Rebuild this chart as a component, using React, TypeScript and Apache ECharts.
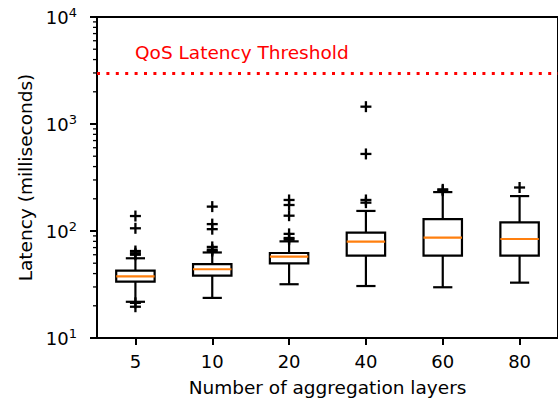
import React, { useEffect, useRef } from "react";
import * as echarts from "echarts";

const CATEGORIES = ["5", "10", "20", "40", "60", "80"];
const WHISKER_LOW = [21.8, 23.7, 31.8, 30.6, 29.8, 32.9];
const Q1 = [33.6, 38.2, 49.9, 58.8, 58.8, 58.8];
const MEDIAN = [37.7, 43.9, 57.5, 79.4, 86.6, 84.2];
const Q3 = [42.6, 49.0, 62.3, 96.4, 129, 120.6];
const WHISKER_HIGH = [55.6, 63, 80, 154, 231, 212];
const OUTLIERS: number[][] = [
  [138, 106, 65, 62, 60, 21.3, 19.6],
  [169, 116, 104, 71, 67, 65],
  [195, 175, 139, 94, 86, 83],
  [1452, 525, 195, 184],
  [245, 238],
  [255],
];
const THRESHOLD = 3000;
const THRESHOLD_LABEL = "QoS Latency Threshold";
const Y_MIN = 10;
const Y_MAX = 10000;
const MINOR_TICKS = [
  20, 30, 40, 50, 60, 70, 80, 90,
  200, 300, 400, 500, 600, 700, 800, 900,
  2000, 3000, 4000, 5000, 6000, 7000, 8000, 9000,
];
const X_NAME = "Number of aggregation layers";
const Y_NAME = "Latency (milliseconds)";

const FONT = "DejaVu Sans";

export default function App() {
  const ref = useRef<HTMLDivElement>(null);
  useEffect(() => {
    document.body.style.margin = "0";
    const chart = echarts.init(ref.current!, null, { renderer: "svg" });
    const boxData = CATEGORIES.map((_, i) => [i, WHISKER_LOW[i], Q1[i], MEDIAN[i], Q3[i], WHISKER_HIGH[i]]);
    const outlierData: number[][] = [];
    OUTLIERS.forEach((arr, i) => arr.forEach((v) => outlierData.push([i, v])));
    const minorData = MINOR_TICKS.map((v) => [0, v]);

    chart.setOption({
      animation: false,
      grid: { left: 97, top: 17, width: 462, height: 321, show: true, borderColor: "#000", borderWidth: 2, backgroundColor: "transparent" },
      xAxis: {
        type: "category",
        data: CATEGORIES,
        boundaryGap: true,
        name: X_NAME,
        nameLocation: "middle",
        nameGap: 40,
        nameTextStyle: { fontFamily: FONT, fontSize: 18.5, color: "#000" },
        axisLine: { show: true, lineStyle: { color: "#000", width: 2 } },
        axisTick: { show: true, alignWithLabel: true, length: 7, lineStyle: { color: "#000", width: 2 } },
        axisLabel: { fontFamily: FONT, fontSize: 18, color: "#000", margin: 14, interval: 0 },
        splitLine: { show: false },
      },
      yAxis: {
        type: "log",
        logBase: 10,
        min: Y_MIN,
        max: Y_MAX,
        name: Y_NAME,
        nameLocation: "middle",
        nameGap: 48,
        nameTextStyle: { fontFamily: FONT, fontSize: 18.5, color: "#000" },
        axisLine: { show: true, lineStyle: { color: "#000", width: 2 } },
        axisTick: { show: true, length: 7, lineStyle: { color: "#000", width: 2 } },
        axisLabel: {
          margin: 20,
          formatter: (v: number) => `{b|10}{s|${Math.round(Math.log10(v))}}`,
          rich: {
            b: { fontFamily: FONT, fontSize: 18, color: "#000" },
            s: { fontFamily: FONT, fontSize: 13, color: "#000", padding: [0, 0, 10, 0] },
          },
        },
        splitLine: { show: false },
      },
      graphic: [
        {
          type: "text",
          left: 135,
          top: 43,
          style: { text: THRESHOLD_LABEL, fill: "#ff0000", font: `18.5px "${FONT}"` },
        },
      ],
      series: [
        {
          type: "custom",
          name: "minor",
          data: minorData,
          encode: { x: 0, y: 1 },
          silent: true,
          clip: false,
          renderItem: (params: any, api: any) => {
            const p = api.coord([0, api.value(1)]);
            const x0 = params.coordSys.x;
            return {
              type: "line",
              shape: { x1: x0 - 4, y1: p[1], x2: x0, y2: p[1] },
              style: { stroke: "#000", lineWidth: 1.3 },
            };
          },
        },
        {
          type: "custom",
          name: "boxes",
          data: boxData,
          encode: { x: 0, y: [1, 2, 3, 4, 5] },
          renderItem: (params: any, api: any) => {
            const i = api.value(0);
            const band = params.coordSys.width / CATEGORIES.length;
            const hw = band * 0.25;
            const cap = band * 0.125;
            const cx = api.coord([i, api.value(3)])[0];
            const yl = api.coord([i, api.value(1)])[1];
            const y1 = api.coord([i, api.value(2)])[1];
            const ym = api.coord([i, api.value(3)])[1];
            const y3 = api.coord([i, api.value(4)])[1];
            const yh = api.coord([i, api.value(5)])[1];
            const s = { stroke: "#000", lineWidth: 2.2, fill: null };
            return {
              type: "group",
              children: [
                { type: "line", shape: { x1: cx, y1: y3, x2: cx, y2: yh }, style: s },
                { type: "line", shape: { x1: cx, y1: y1, x2: cx, y2: yl }, style: s },
                { type: "line", shape: { x1: cx - cap, y1: yh, x2: cx + cap, y2: yh }, style: s },
                { type: "line", shape: { x1: cx - cap, y1: yl, x2: cx + cap, y2: yl }, style: s },
                { type: "rect", shape: { x: cx - hw, y: y3, width: 2 * hw, height: y1 - y3 }, style: { stroke: "#000", lineWidth: 2.2, fill: "none" } },
                { type: "line", shape: { x1: cx - hw, y1: ym, x2: cx + hw, y2: ym }, style: { stroke: "#ff7f0e", lineWidth: 2.2 } },
              ],
            };
          },
          markLine: {
            silent: true,
            symbol: ["none", "none"],
            label: { show: false },
            lineStyle: { color: "#ff0000", width: 3, type: [3, 6.4], cap: "butt" },
            data: [{ yAxis: THRESHOLD }],
          },
        },
        {
          type: "custom",
          name: "outliers",
          data: outlierData,
          encode: { x: 0, y: 1 },
          renderItem: (params: any, api: any) => {
            const p = api.coord([api.value(0), api.value(1)]);
            const r = 5.5;
            const st = { stroke: "#000", lineWidth: 2.3 };
            return {
              type: "group",
              children: [
                { type: "line", shape: { x1: p[0] - r, y1: p[1], x2: p[0] + r, y2: p[1] }, style: st },
                { type: "line", shape: { x1: p[0], y1: p[1] - r, x2: p[0], y2: p[1] + r }, style: st },
              ],
            };
          },
        },
      ],
    });
    return () => chart.dispose();
  }, []);
  return <div ref={ref} style={{ width: 558, height: 404 }} />;
}
